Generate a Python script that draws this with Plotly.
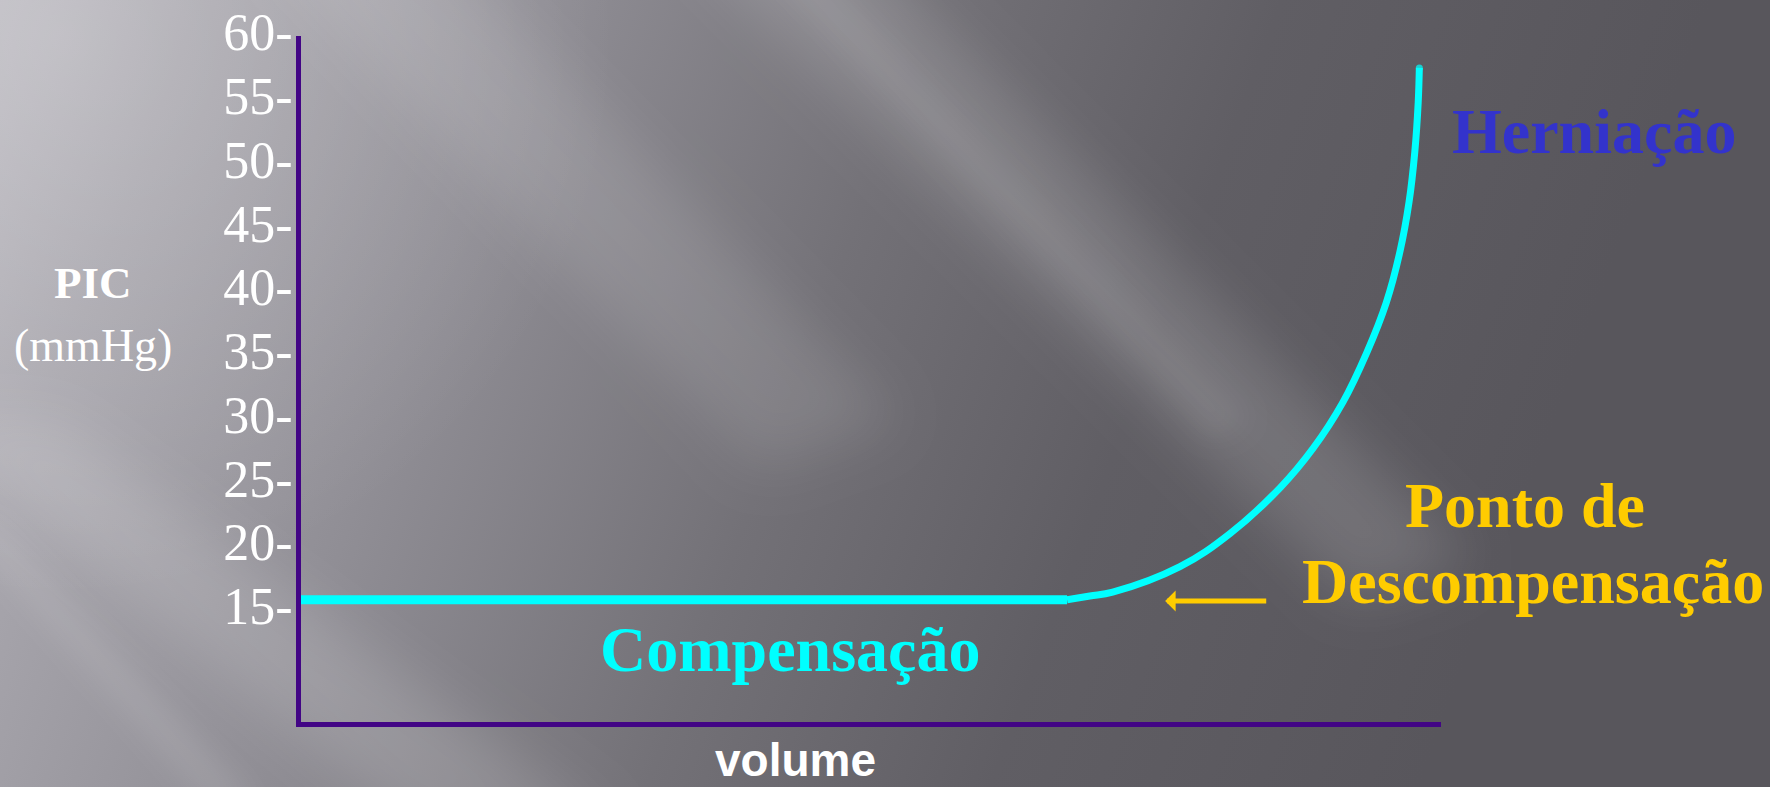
import base64
import plotly.graph_objects as go

# ---- data -------------------------------------------------------------
volume_flat = [0, 67.2]
pic_flat = [15.8, 15.8]

volume_curve = [67.2, 69.2, 71.2, 77.1, 81.5, 85.9, 88.8, 91.4, 93.5,
                95.2, 96.4, 97.2, 97.7, 98.0, 98.1]
pic_curve = [15.8, 16.1, 16.4, 18.4, 21.0, 24.6, 27.7, 31.3, 35.2,
             39.1, 43.1, 47.0, 50.9, 54.8, 57.5]

pic_ticks = [15, 20, 25, 30, 35, 40, 45, 50, 55, 60]
pic_tick_labels = [f"{v}-" for v in pic_ticks]

# decompensation arrow (tip, tail) along the volume axis, at the plateau level
arrow_tip_volume = 75.8
arrow_tail_volume = 84.8
arrow_pic = 15.7

# ---- page geometry ----------------------------------------------------
W, H = 1770, 787
L, R, T, B = 301, 329, 36, 65
PW, PH = W - L - R, H - T - B


def px_x(px):
    return (px - L) / PW


def px_y(py):
    return (H - B - py) / PH


SERIF = "Liberation Serif, Times New Roman, serif"
SANS = "Liberation Sans, Arial, sans-serif"
CYAN = "#00FFFF"
GOLD = "#FFCC00"
BLUE = "#3333CC"
AXIS = "#420585"

# ---- soft grey slide background --------------------------------------
svg = f"""<svg xmlns="http://www.w3.org/2000/svg" width="{W}" height="{H}" viewBox="0 0 {W} {H}" preserveAspectRatio="none">
<defs>
 <linearGradient id="g" x1="0" y1="0" x2="1500" y2="560" gradientUnits="userSpaceOnUse">
  <stop offset="0" stop-color="#b8b6bd"/>
  <stop offset="0.12" stop-color="#a7a5ac"/>
  <stop offset="0.32" stop-color="#908e95"/>
  <stop offset="0.55" stop-color="#737177"/>
  <stop offset="0.75" stop-color="#605e64"/>
  <stop offset="1" stop-color="#58565c"/>
 </linearGradient>
 <radialGradient id="r" cx="60" cy="40" r="560" gradientUnits="userSpaceOnUse">
  <stop offset="0" stop-color="#ffffff" stop-opacity="0.22"/>
  <stop offset="1" stop-color="#ffffff" stop-opacity="0"/>
 </radialGradient>
 <filter id="b" x="-30%" y="-30%" width="160%" height="160%">
  <feGaussianBlur stdDeviation="28"/>
 </filter>
 <filter id="b2" x="-30%" y="-30%" width="160%" height="160%">
  <feGaussianBlur stdDeviation="14"/>
 </filter>
</defs>
<rect x="-20" y="-20" width="{W + 40}" height="{H + 40}" fill="url(#g)"/>
<rect x="-20" y="-20" width="{W + 40}" height="{H + 40}" fill="url(#r)"/>
<g filter="url(#b)" fill="#ffffff">
 <polygon points="680,-60 850,-60 1470,560 1350,600" opacity="0.14"/>
 <polygon points="250,-60 430,-60 900,420 760,470" opacity="0.11"/>
 <polygon points="-80,420 60,420 620,830 420,830" opacity="0.14"/>
</g>
<g filter="url(#b2)" fill="#ffffff">
 <polygon points="760,-40 800,-40 1250,420 1210,440" opacity="0.07"/>
 <polygon points="-40,520 0,520 260,800 210,800" opacity="0.10"/>
</g>
</svg>"""
bg_uri = "data:image/svg+xml;base64," + base64.b64encode(svg.encode()).decode()

fig = go.Figure()

# plateau (compensated phase)
fig.add_trace(go.Scatter(
    x=volume_flat, y=pic_flat, mode="lines",
    line=dict(color=CYAN, width=9), hoverinfo="skip", showlegend=False,
))

# steep rise after the decompensation point
fig.add_trace(go.Scatter(
    x=volume_curve, y=pic_curve, mode="lines+markers",
    line=dict(color=CYAN, width=7, shape="spline", smoothing=1.1),
    marker=dict(color=CYAN, size=[0] * (len(volume_curve) - 1) + [7],
                line=dict(width=0)),
    hoverinfo="skip", showlegend=False,
))

annotations = [
    dict(text="<b>PIC</b>", x=px_x(93), y=px_y(283), font=dict(family=SERIF, size=45, color="white")),
    dict(text="(mmHg)", x=px_x(93), y=px_y(345), font=dict(family=SERIF, size=46, color="white")),
    dict(text="<b>Compensação</b>", x=px_x(790), y=px_y(649), font=dict(family=SERIF, size=64, color=CYAN)),
    dict(text="<b>Herniação</b>", x=px_x(1594), y=px_y(131), font=dict(family=SERIF, size=64, color=BLUE)),
    dict(text="<b>Ponto de</b>", x=px_x(1525), y=px_y(505), font=dict(family=SERIF, size=64, color=GOLD)),
    dict(text="<b>Descompensação</b>", x=px_x(1533), y=px_y(581), font=dict(family=SERIF, size=64, color=GOLD)),
    dict(text="<b>volume</b>", x=px_x(795), y=px_y(760), font=dict(family=SANS, size=46, color="white")),
]
for a in annotations:
    a.update(xref="paper", yref="paper", xanchor="center", yanchor="middle", showarrow=False)

annotations.append(dict(
    x=arrow_tip_volume, y=arrow_pic, ax=arrow_tail_volume, ay=arrow_pic,
    xref="x", yref="y", axref="x", ayref="y", text="",
    showarrow=True, arrowhead=1, arrowsize=0.7, arrowwidth=5, arrowcolor=GOLD,
))

fig.update_layout(
    width=W, height=H, autosize=False,
    margin=dict(l=L, r=R, t=T, b=B, pad=0, autoexpand=False),
    paper_bgcolor="#8a888f", plot_bgcolor="rgba(0,0,0,0)",
    showlegend=False,
    annotations=annotations,
    images=[dict(
        source=bg_uri, xref="paper", yref="paper",
        x=-(L + 4) / PW, y=1 + (T + 4) / PH, sizex=(W + 8) / PW, sizey=(H + 8) / PH,
        xanchor="left", yanchor="top", sizing="stretch", layer="below",
    )],
    xaxis=dict(
        range=[0, 100], showgrid=False, zeroline=False, showticklabels=False,
        ticks="", showline=True, linecolor=AXIS, linewidth=5, fixedrange=True,
        automargin=False,
    ),
    yaxis=dict(
        range=[6.22, 60], showgrid=False, zeroline=False,
        tickmode="array", tickvals=pic_ticks, ticktext=pic_tick_labels,
        tickfont=dict(family=SERIF, size=52, color="white"),
        ticklabelshift=-4, ticklabelstandoff=-7,
        ticks="", showline=True, linecolor=AXIS, linewidth=5, fixedrange=True,
        automargin=False,
    ),
)

fig.write_html("out.html", config={"displayModeBar": False})
